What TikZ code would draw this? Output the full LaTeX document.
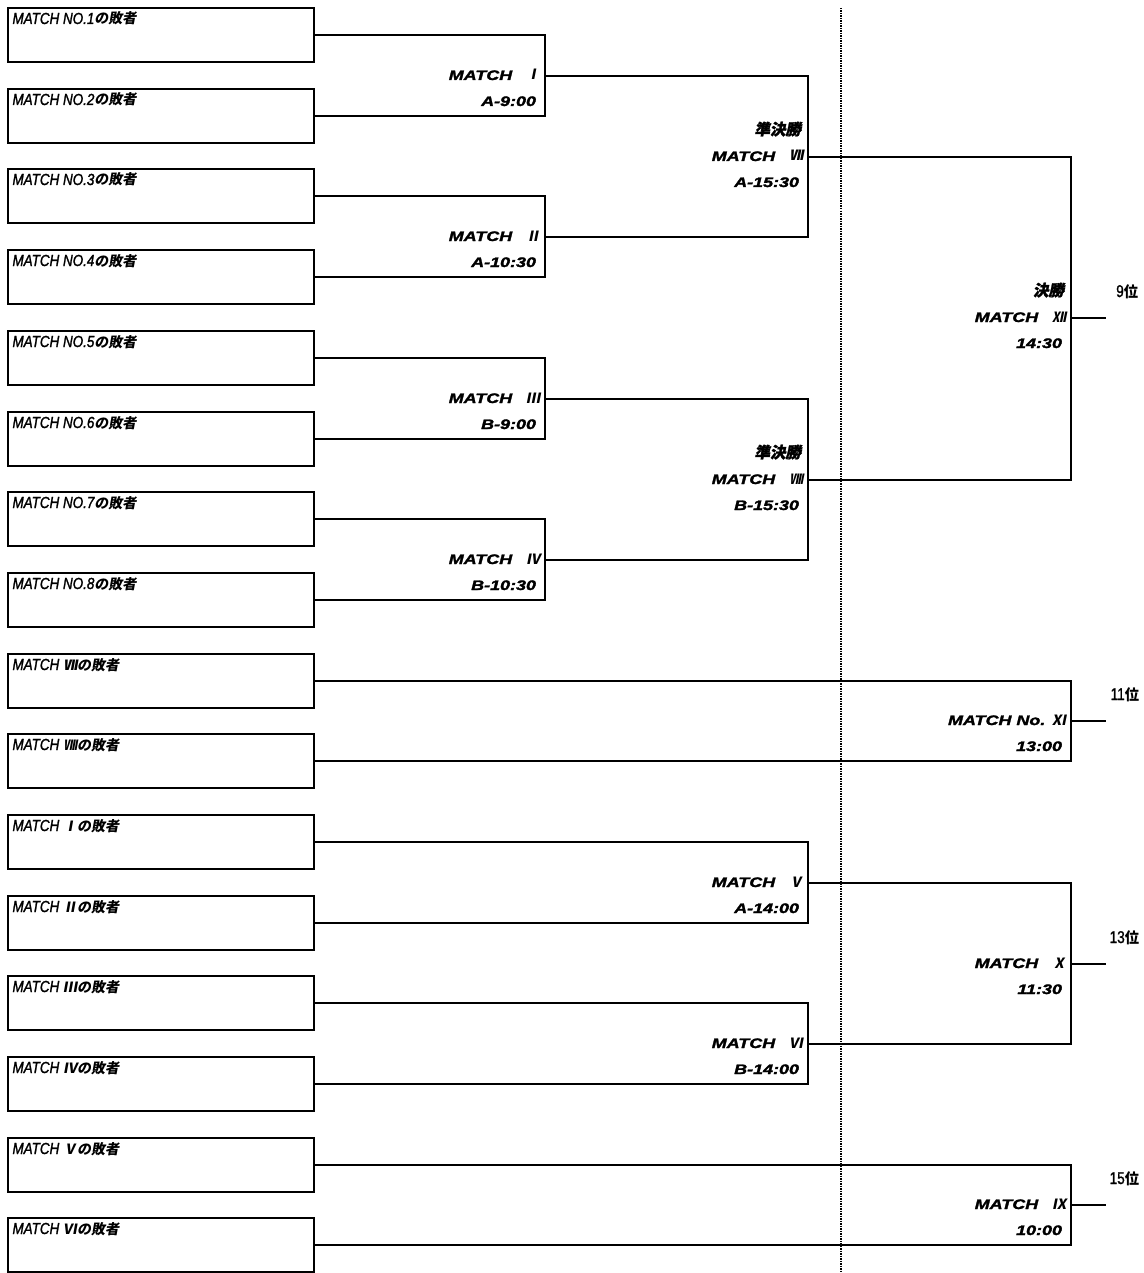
\documentclass[tikz,border=0pt]{standalone}
\usepackage{fontspec}
\setmainfont{Noto Sans CJK JP}
\newfontfamily\boxlat[FakeStretch=0.84,FakeBold=1.5]{Liberation Sans}
\newfontfamily\boxjp[FakeSlant=0.18]{Noto Sans CJK JP}
\newfontfamily\lbllat[FakeStretch=1.3,FakeBold=2]{Liberation Sans}
\newfontfamily\lbljp[FakeSlant=0.2,FakeBold=1.5]{Noto Sans CJK JP}
\newfontfamily\romjp[FakeSlant=0.2]{Noto Sans CJK JP}
\newfontfamily\ranklat[FakeStretch=0.8,FakeBold=1]{Liberation Sans}
\newfontfamily\rankjp[FakeStretch=0.95]{Noto Sans CJK JP}
\newcommand\K[1]{{\boxjp\bfseries\fontsize{14}{14}\selectfont #1}}
\newcommand\J[1]{{\lbljp\bfseries\fontsize{15.5}{15.5}\selectfont #1}}
\newcommand\Rm[1]{{\romjp\fontsize{14}{14}\selectfont #1}}
\newcommand\Rk[1]{{\rankjp\bfseries\fontsize{15}{15}\selectfont #1}}
\begin{document}
\begin{tikzpicture}[x=1pt,y=-1pt,
  line width=2pt,
  loserbox/.style={draw, line width=2pt, minimum width=306pt, minimum height=54pt, inner sep=0pt},
  boxtext/.style={anchor=base west, inner sep=0pt, font=\boxlat\itshape\fontsize{16}{16}\selectfont},
  mlbl/.style={anchor=base east, inner sep=0pt, font=\lbllat\bfseries\itshape\fontsize{13.8}{13.8}\selectfont},
  rank/.style={anchor=base east, inner sep=0pt, font=\ranklat\fontsize{17}{17}\selectfont},
  dotline/.style={line width=1.7pt, dash pattern=on 1.5pt off 1pt}]
\useasboundingbox (0,0) rectangle (1143,1273);
% loser boxes
\foreach \k/\y/\t in {1/8/{MATCH NO.1\K{の敗者}},2/89/{MATCH NO.2\K{の敗者}},3/169/{MATCH NO.3\K{の敗者}},4/250/{MATCH NO.4\K{の敗者}},
  5/331/{MATCH NO.5\K{の敗者}},6/412/{MATCH NO.6\K{の敗者}},7/492/{MATCH NO.7\K{の敗者}},8/573/{MATCH NO.8\K{の敗者}},
  9/654/{MATCH \K{Ⅶの敗者}},10/734/{MATCH \K{Ⅷの敗者}},11/815/{MATCH \K{Ⅰの敗者}},12/896/{MATCH \K{Ⅱの敗者}},
  13/976/{MATCH \K{Ⅲの敗者}},14/1057/{MATCH \K{Ⅳの敗者}},15/1138/{MATCH \K{Ⅴの敗者}},16/1218/{MATCH \K{Ⅵの敗者}}}{
  \node[loserbox] (b\k) at (161, {\y+27}) {};
  \node[boxtext] (t\k) at ([xshift=4.5pt,yshift=-17pt]b\k.north west) {\t};
}
% match junctions
\coordinate (m1) at (545, 76);
\coordinate (m2) at (545, 237);
\coordinate (m3) at (545, 399);
\coordinate (m4) at (545, 560);
\coordinate (m7) at (808, 157);
\coordinate (m8) at (808, 480);
\coordinate (m12) at (1071, 318);
\coordinate (m11) at (1071, 721);
\coordinate (m5) at (808, 883);
\coordinate (m6) at (808, 1044);
\coordinate (m10) at (1071, 964);
\coordinate (m9) at (1071, 1205);
\coordinate (r9) at (1106, 318);
\coordinate (r11) at (1106, 721);
\coordinate (r13) at (1106, 964);
\coordinate (r15) at (1106, 1205);
\coordinate (dtop) at (841, 8);
\coordinate (dbot) at (841, 1273);
% dotted divider
\draw[dotline] (dtop) -- (dbot);
% brackets
\draw (b1.east) -| (m1) |- (b2.east);
\draw (b3.east) -| (m2) |- (b4.east);
\draw (b5.east) -| (m3) |- (b6.east);
\draw (b7.east) -| (m4) |- (b8.east);
\draw (m1) -| (m7) |- (m2);
\draw (m3) -| (m8) |- (m4);
\draw (m7) -| (m12) |- (m8);
\draw (m12) -- (r9);
\draw (b9.east) -| (m11) |- (b10.east);
\draw (m11) -- (r11);
\draw (b11.east) -| (m5) |- (b12.east);
\draw (b13.east) -| (m6) |- (b14.east);
\draw (m5) -| (m10) |- (m6);
\draw (m10) -- (r13);
\draw (b15.east) -| (m9) |- (b16.east);
\draw (m9) -- (r15);
% match labels
\foreach \m/\a/\b in {m1/{MATCH\quad\Rm{Ⅰ}}/{A-9:00}, m2/{MATCH\quad\Rm{Ⅱ}}/{A-10:30},
  m3/{MATCH\quad\Rm{Ⅲ}}/{B-9:00}, m4/{MATCH\quad\Rm{Ⅳ}}/{B-10:30},
  m7/{MATCH\quad\Rm{Ⅶ}}/{A-15:30}, m8/{MATCH\quad\Rm{Ⅷ}}/{B-15:30},
  m12/{MATCH\quad\Rm{Ⅻ}}/{14:30}, m11/{MATCH No. \Rm{Ⅺ}}/{13:00},
  m5/{MATCH\quad\Rm{Ⅴ}}/{A-14:00}, m6/{MATCH\quad\Rm{Ⅵ}}/{B-14:00},
  m10/{MATCH\quad\Rm{Ⅹ}}/{11:30}, m9/{MATCH\quad\Rm{Ⅸ}}/{10:00}}{
  \node[mlbl] (\m a) at ([xshift=-4pt,yshift=-4pt]\m) {\a};
  \node[mlbl] (\m b) at ([xshift=-8pt,yshift=-30pt]\m) {\b};
}
\node[mlbl] (m7s) at ([xshift=-6pt,yshift=22pt]m7) {\J{準決勝}};
\node[mlbl] (m8s) at ([xshift=-6pt,yshift=22pt]m8) {\J{準決勝}};
\node[mlbl] (m12s) at ([xshift=-6pt,yshift=22pt]m12) {\J{決勝}};
% ranks
\node[rank] (p9) at ([xshift=33pt,yshift=21pt]r9) {9\Rk{位}};
\node[rank] (p11) at ([xshift=34pt,yshift=21pt]r11) {11\Rk{位}};
\node[rank] (p13) at ([xshift=34pt,yshift=21pt]r13) {13\Rk{位}};
\node[rank] (p15) at ([xshift=34pt,yshift=21pt]r15) {15\Rk{位}};
\end{tikzpicture}
\end{document}
